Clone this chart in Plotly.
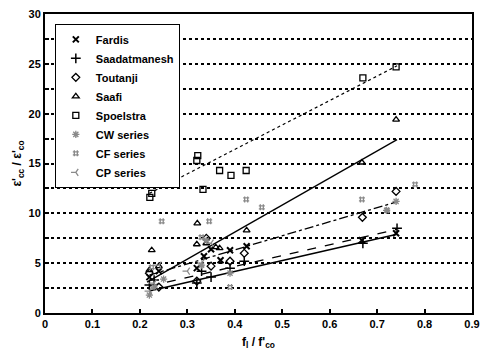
import plotly.graph_objects as go

# ---- data ----
fardis_x = [0.22, 0.24, 0.32, 0.335, 0.35, 0.37, 0.39, 0.425, 0.668, 0.74]
fardis_y = [3.6, 4.2, 4.5, 5.7, 6.4, 5.3, 6.3, 6.7, 7.3, 8.0]

saad_x = [0.22, 0.23, 0.32, 0.33, 0.35, 0.39, 0.42, 0.67, 0.742]
saad_y = [2.8, 3.3, 3.0, 4.2, 3.6, 4.5, 5.2, 7.0, 8.5]

tout_x = [0.22, 0.24, 0.32, 0.34, 0.35, 0.39, 0.42, 0.669, 0.74]
tout_y = [4.0, 2.6, 3.2, 7.5, 4.7, 5.2, 6.0, 9.6, 12.2]

saafi_x = [0.22, 0.225, 0.24, 0.32, 0.321, 0.34, 0.36, 0.368, 0.425, 0.668, 0.74]
saafi_y = [4.3, 6.3, 4.7, 6.9, 9.0, 7.0, 6.6, 6.5, 8.3, 15.1, 19.4]

spoel_x = [0.221, 0.225, 0.248, 0.32, 0.322, 0.333, 0.368, 0.392, 0.424, 0.670, 0.740]
spoel_y = [11.6, 12.0, 13.2, 15.3, 15.8, 12.4, 14.3, 13.8, 14.3, 23.6, 24.7]

cw_x = [0.22, 0.23, 0.25, 0.33, 0.34, 0.39, 0.72, 0.74]
cw_y = [1.8, 2.6, 3.4, 4.8, 7.3, 4.0, 10.3, 11.2]

cf_x = [0.225, 0.246, 0.33, 0.346, 0.39, 0.424, 0.457, 0.668, 0.721, 0.78]
cf_y = [4.6, 9.2, 7.6, 9.2, 2.6, 11.4, 10.6, 11.4, 10.3, 12.9]

cp_x = [0.22, 0.23, 0.24, 0.30, 0.33, 0.35]
cp_y = [2.2, 3.0, 4.8, 4.2, 5.0, 7.0]

# trend line end points
spoel_fit_x = [0.22, 0.742]
spoel_fit_y = [12.0, 24.8]
saafi_fit_x = [0.215, 0.742]
saafi_fit_y = [3.1, 17.4]
dashdot_fit_x = [0.22, 0.745]
dashdot_fit_y = [3.8, 11.2]
dash_fit_x = [0.22, 0.742]
dash_fit_y = [2.7, 8.4]
solid_fit_x = [0.22, 0.742]
solid_fit_y = [2.2, 7.9]

x_ticks = [0, 0.1, 0.2, 0.3, 0.4, 0.5, 0.6, 0.7, 0.8, 0.9]
y_ticks = [0, 5, 10, 15, 20, 25, 30]

FONT = "Liberation Sans, Arial, sans-serif"
GREY = "#8a8a8a"

fig = go.Figure()

def line(x, y, dash, w=1.3):
    fig.add_trace(go.Scatter(x=x, y=y, mode="lines", showlegend=False,
                             line=dict(color="black", width=w, dash=dash),
                             hoverinfo="skip"))

line(spoel_fit_x, spoel_fit_y, "dot", 1.2)
line(saafi_fit_x, saafi_fit_y, "solid")
line(dashdot_fit_x, dashdot_fit_y, "dashdot")
line(dash_fit_x, dash_fit_y, "dash")
line(solid_fit_x, solid_fit_y, "solid", 1.6)

def pts(name, x, y, symbol, color="black", size=7, lw=1.3):
    fig.add_trace(go.Scatter(x=x, y=y, mode="markers", name=name,
                             marker=dict(symbol=symbol, size=size,
                                         color=color,
                                         line=dict(color=color, width=lw))))

pts("Fardis", fardis_x, fardis_y, "x-thin-open", size=6, lw=2)
pts("Saadatmanesh", saad_x, saad_y, "cross-thin-open", size=7, lw=1.5)
pts("Toutanji", tout_x, tout_y, "diamond-open", size=6)
pts("Saafi", saafi_x, saafi_y, "triangle-up-open", size=6)
pts("Spoelstra", spoel_x, spoel_y, "square-open", size=6)
pts("CW series", cw_x, cw_y, "asterisk-open", GREY, size=6)
pts("CF series", cf_x, cf_y, "hash-open", GREY, size=6)
pts("CP series", cp_x, cp_y, "y-left-open", GREY, size=6)

fig.update_layout(
    width=481, height=357,
    margin=dict(l=45, r=9, t=14, b=44),
    paper_bgcolor="white", plot_bgcolor="white",
    font=dict(family=FONT, size=11, color="black", weight="bold"),
    legend=dict(x=0.023, y=0.967, xanchor="left", yanchor="top",
                bordercolor="black", borderwidth=1, bgcolor="white",
                font=dict(family=FONT, size=11, weight="bold"),
                tracegroupgap=0, itemwidth=30),
    showlegend=True,
)
fig.update_xaxes(
    range=[0, 0.9], tickvals=x_ticks, ticktext=[f"{v:g}" for v in x_ticks],
    ticks="inside", ticklen=4, tickwidth=1.5, tickcolor="black",
    showline=True, linecolor="black", linewidth=2, mirror=True,
    showgrid=False, zeroline=False, automargin=False,
    title=dict(text="f<sub>l</sub> / f'<sub>co</sub>", standoff=8,
               font=dict(family=FONT, size=12, weight="bold")),
)
fig.update_yaxes(
    range=[0, 30], tickvals=y_ticks, ticktext=[str(v) for v in y_ticks],
    ticks="inside", ticklen=4, tickwidth=1.5, tickcolor="black",
    showline=True, linecolor="black", linewidth=2, mirror=True,
    showgrid=True, gridcolor="black", gridwidth=1.5, griddash="dot",
    zeroline=False, automargin=False,
    minor=dict(dtick=2.5, ticks="inside", ticklen=4, tickcolor="black",
               showgrid=True, gridcolor="black", gridwidth=1.5, griddash="dot"),
    title=dict(text="ε'<sub>cc</sub> / ε'<sub>co</sub>", standoff=4,
               font=dict(family=FONT, size=12, weight="bold")),
)

fig.write_html("out.html", config={"displayModeBar": False},
               post_script="document.body.style.margin='0';document.body.style.overflow='hidden';")
